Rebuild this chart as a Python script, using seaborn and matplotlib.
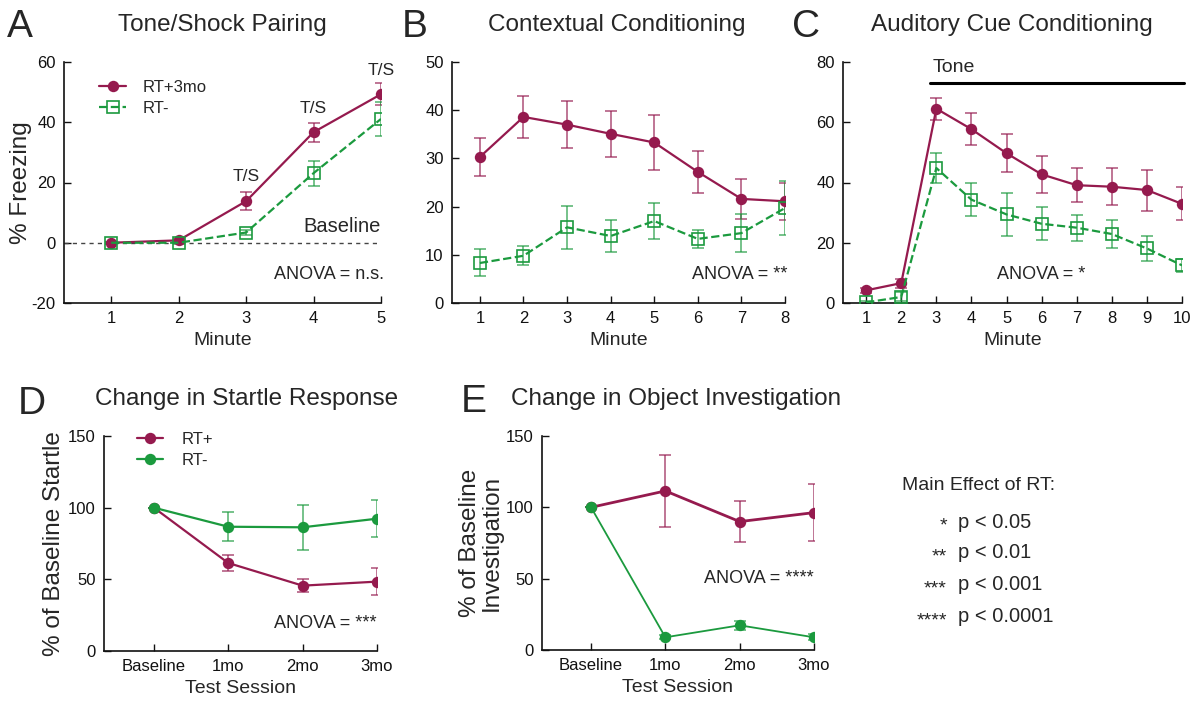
import numpy as np
import pandas as pd
import matplotlib
matplotlib.use("Agg")
import matplotlib.pyplot as plt
import seaborn as sns

sns.set_style("ticks")
plt.rcParams['font.family'] = ['Liberation Sans', 'DejaVu Sans']
plt.rcParams['axes.unicode_minus'] = False

MAROON = "#951a4e"
GREEN = "#1b9a3e"

# ---------------- data ----------------
# A: Tone/Shock pairing
a_min = [1, 2, 3, 4, 5]
a_rtp = [0.0, 0.8, 13.8, 36.7, 49.3]
a_rtp_err = [0.4, 0.5, 3.0, 3.1, 3.6]
a_rtm = [0.0, 0.0, 3.4, 23.1, 41.1]
a_rtm_err = [0.4, 0.5, 0.8, 4.2, 5.6]

# B: Contextual conditioning
b_min = [1, 2, 3, 4, 5, 6, 7, 8]
b_rtp = [30.3, 38.6, 37.0, 35.1, 33.3, 27.2, 21.6, 21.1]
b_rtp_err = [3.9, 4.4, 4.9, 4.8, 5.7, 4.3, 4.2, 3.9]
b_rtm = [8.3, 9.8, 15.7, 13.9, 17.0, 13.3, 14.5, 19.7]
b_rtm_err = [2.8, 2.0, 4.5, 3.4, 3.8, 1.8, 3.9, 5.6]

# C: Auditory cue conditioning
c_min = [1, 2, 3, 4, 5, 6, 7, 8, 9, 10]
c_rtp = [4.2, 6.6, 64.5, 57.7, 49.7, 42.7, 39.1, 38.6, 37.5, 32.9]
c_rtp_err = [0.8, 1.5, 3.7, 5.3, 6.3, 6.2, 5.6, 6.1, 6.8, 5.5]
c_rtm = [0.2, 2.0, 44.8, 34.3, 29.4, 26.3, 25.0, 22.9, 18.1, 12.5]
c_rtm_err = [0.6, 1.5, 5.0, 5.5, 7.0, 5.5, 4.3, 4.8, 4.0, 2.2]

# D: Startle
sessions = ["Baseline", "1mo", "2mo", "3mo"]
d_rtp = [100.0, 61.4, 45.6, 48.4]
d_rtp_err = [0.0, 5.5, 4.6, 9.2]
d_rtm = [100.0, 86.7, 86.3, 92.3]
d_rtm_err = [0.0, 10.0, 15.5, 13.0]

# E: Object investigation
e_rtp = [100.0, 111.5, 90.0, 96.3]
e_rtp_err = [0.0, 25.3, 14.2, 20.0]
e_rtm = [100.0, 8.9, 17.3, 8.9]
e_rtm_err = [0.0, 1.5, 3.2, 2.0]

# ---------------- figure ----------------
fig = plt.figure(figsize=(12, 7.03), dpi=100)

def axes_px(l, r, t, b):
    W, H = 1200, 703
    return fig.add_axes([l / W, 1 - b / H, (r - l) / W, (b - t) / H])

axA = axes_px(64, 381, 62, 303)
axB = axes_px(452, 785, 62, 303)
axC = axes_px(843, 1182, 62, 303)
axD = axes_px(104, 377, 436, 651)
axE = axes_px(542, 814, 436, 650)

def style(ax):
    sns.despine(ax=ax)
    for s in ("left", "bottom"):
        ax.spines[s].set_linewidth(1.2)
        ax.spines[s].set_color("#111111")
    ax.tick_params(axis="both", direction="in", length=5, width=1.0,
                   labelsize=12, colors="#111111", pad=6)
    ax.set_facecolor("white")

def series(ax, x, y, err, color, dashed=False, open_marker=False, lw=1.6, ms=8.2, label=None, elw=1.2):
    df = pd.DataFrame({"x": x, "y": y})
    sns.lineplot(data=df, x="x", y="y", ax=ax, color=color, lw=lw,
                 linestyle="--" if dashed else "-",
                 marker="s" if open_marker else "o",
                 markersize=ms if not open_marker else ms + 0.3,
                 markerfacecolor="none" if open_marker else color,
                 markeredgecolor=color, markeredgewidth=1.2 if open_marker else 0,
                 label=label, zorder=3)
    ax.errorbar(x, y, yerr=err, fmt="none", ecolor=color, elinewidth=elw,
                capsize=4.5, capthick=elw, alpha=0.7, zorder=2)

# ---- A ----
style(axA)
series(axA, a_min, a_rtp, a_rtp_err, MAROON, label="RT+3mo")
series(axA, a_min, a_rtm, a_rtm_err, GREEN, dashed=True, open_marker=True, label="RT-")
axA.axhline(0, color="#444444", lw=1.0, ls=(0, (3, 3)), zorder=1)
axA.set_xlim(0.3, 5)
axA.set_ylim(-20, 60)
axA.set_xticks(a_min)
axA.set_yticks([-20, 0, 20, 40, 60])
axA.set_xlabel("Minute", fontsize=14)
axA.set_ylabel("% Freezing", fontsize=17.5, labelpad=0)
for xx, yy in zip([3, 4, 5], [22, 44.6, 57.3]):
    axA.text(xx, yy, "T/S", ha="center", va="center", fontsize=12.5)
axA.text(5, 2.2, "Baseline", ha="right", va="bottom", fontsize=14.5)
axA.text(5.05, -10.6, "ANOVA = n.s.", ha="right", va="center", fontsize=13)
axA.legend(loc="upper left", bbox_to_anchor=(0.11, 0.925), frameon=False,
           fontsize=12, handlelength=1.65, handletextpad=1.0, labelspacing=0.35,
           borderpad=0, borderaxespad=0)

# ---- B ----
style(axB)
series(axB, b_min, b_rtp, b_rtp_err, MAROON)
series(axB, b_min, b_rtm, b_rtm_err, GREEN, dashed=True, open_marker=True)
axB.set_xlim(0.36, 8)
axB.set_ylim(0, 50)
axB.set_xticks(b_min)
axB.set_yticks([0, 10, 20, 30, 40, 50])
axB.set_xlabel("Minute", fontsize=14)
axB.set_ylabel("")
axB.text(8.05, 5.9, "ANOVA = **", ha="right", va="center", fontsize=13)

# ---- C ----
style(axC)
series(axC, c_min, c_rtp, c_rtp_err, MAROON)
series(axC, c_min, c_rtm, c_rtm_err, GREEN, dashed=True, open_marker=True)
axC.set_xlim(0.34, 10)
axC.set_ylim(0, 80)
axC.set_xticks(c_min)
axC.set_yticks([0, 20, 40, 60, 80])
axC.set_xlabel("Minute", fontsize=14)
axC.set_ylabel("")
axC.plot([2.82, 10.05], [73, 73], color="black", lw=2.2, clip_on=False)
axC.text(2.9, 78.3, "Tone", ha="left", va="center", fontsize=14)
axC.text(6.0, 9.4, "ANOVA = *", ha="center", va="center", fontsize=13)

# ---- D ----
xs = list(range(len(sessions)))
style(axD)
series(axD, xs, d_rtp, d_rtp_err, MAROON, label="RT+")
series(axD, xs, d_rtm, d_rtm_err, GREEN, label="RT-")
axD.set_xlim(-0.67, 3)
axD.set_ylim(0, 150)
axD.set_xticks(xs)
axD.set_xticklabels(sessions, fontsize=12)
axD.set_yticks([0, 50, 100, 150])
axD.set_xlabel("Test Session", fontsize=14)
axD.set_ylabel("% of Baseline Startle", fontsize=17.5, labelpad=2)
axD.text(3.0, 19.5, "ANOVA = ***", ha="right", va="center", fontsize=13)
axD.legend(loc="upper left", bbox_to_anchor=(0.12, 1.02), frameon=False,
           fontsize=12, handlelength=1.6, handletextpad=1.1, labelspacing=0.35,
           borderpad=0, borderaxespad=0)

# ---- E ----
style(axE)
series(axE, xs, e_rtp, e_rtp_err, MAROON, lw=2.0)
series(axE, xs, e_rtm, e_rtm_err, GREEN, lw=1.3)
axE.set_xlim(-0.66, 3)
axE.set_ylim(0, 150)
axE.set_xticks(xs)
axE.set_xticklabels(sessions, fontsize=12)
axE.set_yticks([0, 50, 100, 150])
axE.set_xlabel("Test Session", fontsize=14)
axE.set_ylabel("% of Baseline\nInvestigation", fontsize=17.5, labelpad=2, linespacing=1.0)
axE.text(3.0, 49.8, "ANOVA = ****", ha="right", va="center", fontsize=13)

# ---- titles & panel letters ----
fig.text(222 / 1200, 1 - 25 / 703, "Tone/Shock Pairing", ha="center", va="center", fontsize=17.5)
fig.text(617 / 1200, 1 - 25 / 703, "Contextual Conditioning", ha="center", va="center", fontsize=17.5)
fig.text(1012 / 1200, 1 - 25 / 703, "Auditory Cue Conditioning", ha="center", va="center", fontsize=17.5)
fig.text(247 / 1200, 1 - 399 / 703, "Change in Startle Response", ha="center", va="center", fontsize=17.5)
fig.text(676 / 1200, 1 - 399 / 703, "Change in Object Investigation", ha="center", va="center", fontsize=17.5)

for lx, ly, letter in [(7, 27, "A"), (402, 27, "B"), (792, 27, "C"), (18, 404, "D"), (461, 402, "E")]:
    fig.text(lx / 1200, 1 - ly / 703, letter, ha="left", va="center", fontsize=28)

# ---- significance key ----
fig.text(902 / 1200, 1 - 486 / 703, "Main Effect of RT:", ha="left", va="center", fontsize=14)
stars = ["*", "**", "***", "****"]
pvals = ["p < 0.05", "p < 0.01", "p < 0.001", "p < 0.0001"]
rows_y = [522, 553, 585, 617]
for s, p, yy in zip(stars, pvals, rows_y):
    fig.text(947 / 1200, 1 - (yy + 4) / 703, s, ha="right", va="center", fontsize=14)
    fig.text(958 / 1200, 1 - yy / 703, p, ha="left", va="center", fontsize=14.5)

fig.savefig("out.png", dpi=100, facecolor="white")
